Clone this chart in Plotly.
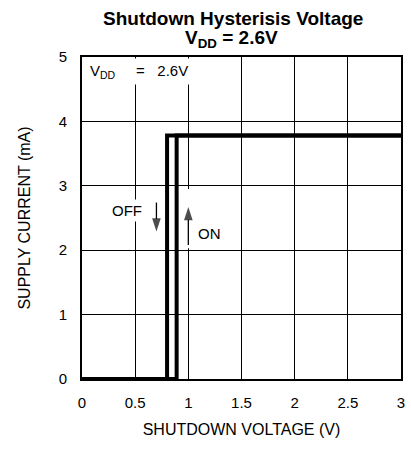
import plotly.graph_objects as go

# Supply current vs shutdown pin voltage, VDD = 2.6 V
# Turning OFF: current drops to zero when the shutdown voltage falls to 0.8 V
off_voltage = [3.0, 0.8, 0.8, 0.0]
off_current = [3.78, 3.78, 0.0, 0.0]
# Turning ON: current rises once the shutdown voltage reaches 0.89 V
on_voltage = [0.0, 0.89, 0.89, 3.0]
on_current = [0.0, 0.0, 3.78, 3.78]

x_ticks = [0, 0.5, 1, 1.5, 2, 2.5, 3]
x_tick_text = ["0", "0.5", "1", "1.5", "2", "2.5", "3"]
y_ticks = [0, 1, 2, 3, 4, 5]
y_tick_text = ["0", "1", "2", "3", "4", "5"]

# direction indicators: (tail, head) in data units
off_arrow_x = [0.70, 0.70]
off_arrow_y = [2.74, 2.29]
on_arrow_x = [1.0, 1.0]
on_arrow_y = [2.08, 2.67]

FONT = "Liberation Sans, Arial, sans-serif"
line_style = dict(color="black", width=4)

fig = go.Figure()
fig.add_trace(go.Scatter(x=off_voltage, y=off_current, mode="lines",
                         line=line_style, cliponaxis=False, name="OFF",
                         hoverinfo="skip"))
fig.add_trace(go.Scatter(x=on_voltage, y=on_current, mode="lines",
                         line=line_style, cliponaxis=False, name="ON",
                         hoverinfo="skip"))

for ax_x, ax_y in ((off_arrow_x, off_arrow_y), (on_arrow_x, on_arrow_y)):
    fig.add_trace(go.Scatter(
        x=ax_x, y=ax_y, mode="lines+markers",
        line=dict(color="black", width=1.3),
        marker=dict(symbol="arrow", angleref="previous", size=[0, 14],
                    color="black", line=dict(width=0)),
        hoverinfo="skip"))

axis_common = dict(
    showgrid=True, gridcolor="black", gridwidth=1,
    showline=True, linecolor="black", linewidth=2, mirror=True,
    zeroline=False, ticks="",
    tickfont=dict(family=FONT, size=15, color="black"),
)

fig.update_xaxes(range=[0, 3], tickvals=x_ticks, ticktext=x_tick_text,
                 ticklabelstandoff=9,
                 title=dict(text="SHUTDOWN VOLTAGE (V)", standoff=14,
                            font=dict(family=FONT, size=16, color="black")),
                 **axis_common)
fig.update_yaxes(range=[0, 5], tickvals=y_ticks, ticktext=y_tick_text,
                 ticklabelstandoff=10,
                 title=dict(text="SUPPLY CURRENT (mA)", standoff=24,
                            font=dict(family=FONT, size=16, color="black")),
                 **axis_common)

nb = "\u00a0"
label_font = dict(family=FONT, size=15, color="black")
annotations = [
    # two-line heading
    dict(text="<b>Shutdown Hysterisis Voltage</b>", xref="paper", yref="paper",
         x=0.473, y=1.0, yshift=57 - 6, xanchor="center", yanchor="top",
         showarrow=False, font=dict(family=FONT, size=19, color="black")),
    dict(text="<b>V<sub>DD</sub> = 2.6V</b>", xref="paper", yref="paper",
         x=0.47, y=1.0, yshift=57 - 25, xanchor="center", yanchor="top",
         showarrow=False, font=dict(family=FONT, size=19, color="black")),
    # labels inside the plot
    dict(text=f"V<sub>DD</sub>{nb*5}={nb*3}2.6V", x=0.04, y=4.77,
         xanchor="left", yanchor="middle", showarrow=False,
         bgcolor="white", borderpad=3, font=label_font),
    dict(text="OFF", x=0.42, y=2.62, showarrow=False, bgcolor="white",
         borderpad=2, font=label_font),
    dict(text="ON", x=1.2, y=2.26, showarrow=False, bgcolor="white",
         borderpad=2, font=label_font),
]

# white gap in the 1 V grid line around the ON arrow
fig.add_shape(type="rect", x0=0.97, x1=1.03, y0=2.03, y1=2.95,
              xref="x", yref="y", fillcolor="white", line=dict(width=0),
              layer="between")

fig.update_layout(
    width=411, height=450,
    margin=dict(l=82, r=6, t=57, b=71),
    paper_bgcolor="white", plot_bgcolor="white",
    showlegend=False,
    annotations=annotations,
    font=dict(family=FONT, color="black"),
)

fig.write_html("out.html")
